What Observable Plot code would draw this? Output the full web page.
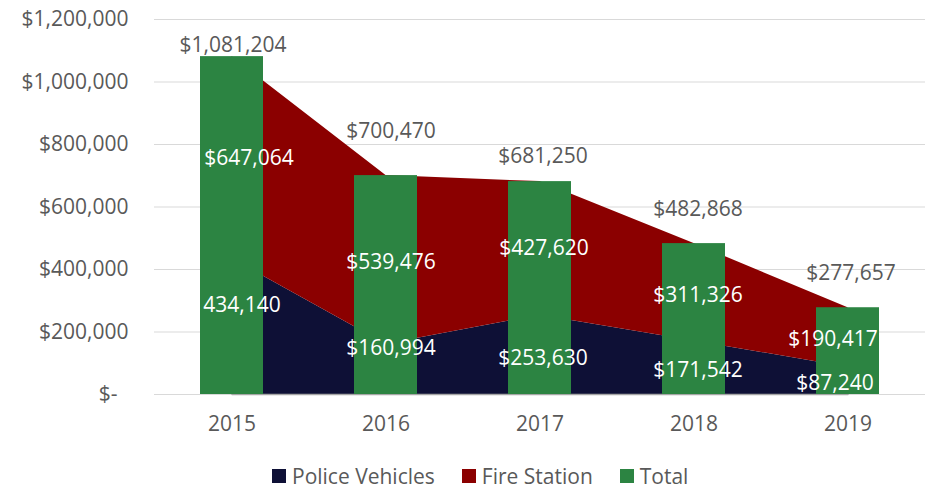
<!DOCTYPE html>
<html><head><meta charset="utf-8">
<script src="https://cdn.jsdelivr.net/npm/d3@7"></script>
<script src="https://cdn.jsdelivr.net/npm/@observablehq/plot@0.6"></script>
<style>
html,body{margin:0;background:#fff;font-family:"Open Sans",sans-serif;overflow:hidden;}
#chart svg{display:block;}
#legend{display:flex;align-items:center;margin-left:272px;margin-top:8px;height:26px;line-height:26px;color:#595959;font-size:21px;}
#legend .item{display:flex;align-items:center;margin-right:27px;}
#legend .sw{width:14px;height:14px;margin-right:6px;}
</style></head><body><div id="chart"></div><div id="legend"></div><script>
const years = ["2015","2016","2017","2018","2019"];
const policeVehicles = [434140,160994,253630,171542,87240];
const fireStation = [647064,539476,427620,311326,190417];
const total = [1081204,700470,681250,482868,277657];
const seriesNames = ["Police Vehicles","Fire Station","Total"];
const seriesColors = ["#0e1036","#8b0000","#2c8442"];
const yTicks = [0,200000,400000,600000,800000,1000000,1200000];
const policeLabels = ["434,140","$160,994","$253,630","$171,542","$87,240"];

// label nudges (layout only)
const totalDx = [1,5,3,4,3], totalDy = [-11,-44,-25,-34,-34];
const fireDx = [17,5,4,4,-15], fireDy = [1,2,0,3,2];
const policeDx = [10,5,3,4,-13], policeDy = [-21,-21,3,3,2];

const fmt = d3.format(",");
const money = v => "$" + fmt(v);

const rows = years.map((y,i) => ({year:y, police:policeVehicles[i], fire:fireStation[i], total:total[i], i}));
const areaData = [
  ...rows.map(r => ({year:r.year, series:seriesNames[0], value:r.police})),
  ...rows.map(r => ({year:r.year, series:seriesNames[1], value:r.fire}))
];

const labelMarks = [];
rows.forEach(r => {
  labelMarks.push(Plot.text([r], {x:"year", y:"total", text:d=>money(d.total), fill:"#595959", dx: totalDx[r.i], dy: totalDy[r.i]}));
  labelMarks.push(Plot.text([r], {x:"year", y:d=>d.police + d.fire/2, text:d=>money(d.fire), fill:"#ffffff", dx: fireDx[r.i], dy: fireDy[r.i]}));
  labelMarks.push(Plot.text([r], {x:"year", y:d=>d.police/2, text:d=>policeLabels[d.i], fill:"#ffffff", dx: policeDx[r.i], dy: policeDy[r.i]}));
});

const chart = Plot.plot({
  width: 929,
  height: 455,
  marginLeft: 154,
  marginRight: 4,
  marginTop: 19,
  marginBottom: 61,
  style: {fontFamily:"Open Sans, sans-serif", fontSize:"21px", color:"#595959", background:"#fff"},
  x: {domain: years, paddingInner: 0.59, paddingOuter: 0.295, tickSize: 0, tickPadding: 22, label: null},
  y: {domain: [0,1200000], ticks: yTicks, tickSize: 0, tickPadding: 26, label: null,
      tickFormat: d => d === 0 ? "$-\u00a0\u00a0" : money(d)},
  color: {domain: seriesNames, range: seriesColors},
  marks: [
    Plot.ruleY(yTicks, {stroke:"#d9d9d9", strokeWidth:1.2}),
    Plot.areaY(areaData, {x:"year", y:"value", fill:"series", z:"series"}),
    Plot.lineY(rows, {x:"year", y:() => 0, stroke:"#a6a6a6", strokeWidth:1.5}),
    Plot.barY(rows, {x:"year", y:"total", fill:() => seriesNames[2]}),
    ...labelMarks
  ]
});
document.getElementById("chart").appendChild(chart);

const legend = document.getElementById("legend");
seriesNames.forEach((n,i) => {
  const item = document.createElement("div");
  item.className = "item";
  const sw = document.createElement("div");
  sw.className = "sw";
  sw.style.background = seriesColors[i];
  const t = document.createElement("span");
  t.textContent = n;
  item.appendChild(sw); item.appendChild(t);
  legend.appendChild(item);
});
</script></body></html>
